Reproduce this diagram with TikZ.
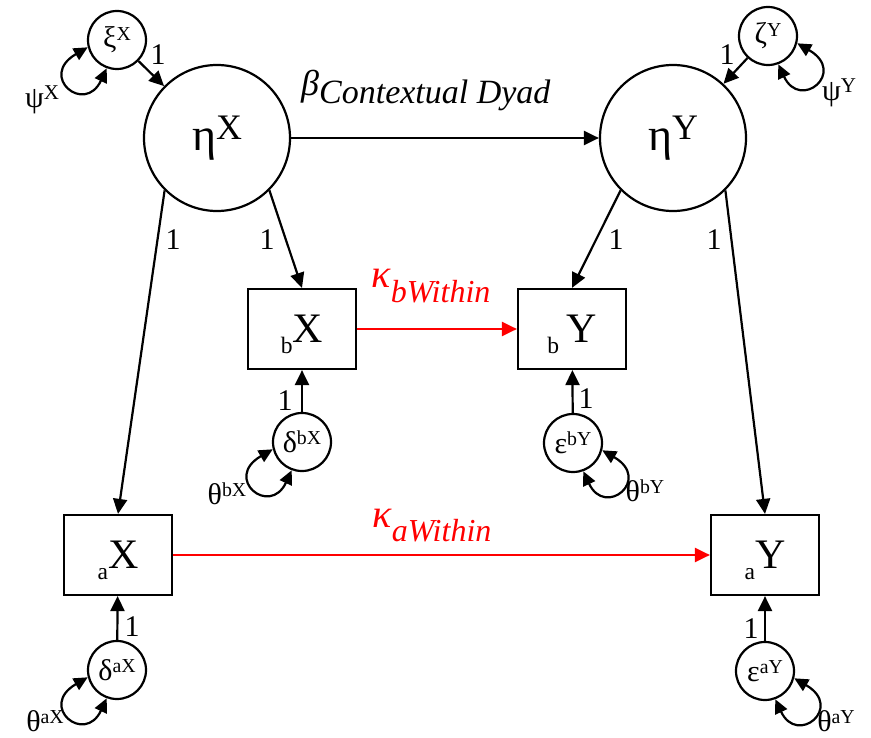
\documentclass[tikz,border=0pt]{standalone}
\usepackage{fontspec}
\setmainfont{LiberationSerif}[Extension=.ttf, UprightFont=*-Regular, ItalicFont=*-Italic, BoldFont=*-Bold]
\usepackage{xcolor}
\usetikzlibrary{arrows.meta,positioning,calc}
\definecolor{within}{HTML}{FF0000}
\newcommand{\up}[2][.66]{\raisebox{.25em}{\scalebox{#1}{#2}}}
\newcommand{\dn}[2][.56]{\raisebox{-.26em}{\scalebox{#1}{#2}}}

\begin{document}
\begin{tikzpicture}[x=1pt, y=1pt, >=Stealth,
  latent/.style={draw, circle, line width=2.2pt, minimum size=146pt, inner sep=0pt, font=\fontsize{46}{50}\selectfont},
  resid/.style={draw, circle, line width=2.2pt, minimum size=58pt, inner sep=0pt, font=\fontsize{30}{32}\selectfont},
  obs/.style={draw, rectangle, line width=2.2pt, minimum width=108pt, minimum height=80pt, inner sep=0pt, text depth=0pt, font=\fontsize{42}{46}\selectfont},
  load/.style={line width=2.2pt, -{Triangle[length=15pt, width=14pt]}},
  reg/.style={load, within},
  cov/.style={line width=2.2pt, {Triangle[length=14pt, width=13pt]}-{Triangle[length=14pt, width=13pt]}},
  one/.style={font=\fontsize{30}{32}\selectfont, inner sep=0pt},
  var/.style={font=\fontsize{30}{32}\selectfont, inner sep=0pt}]
  \useasboundingbox (0,0) rectangle (871,-738);

  % latent factors
  \node[latent] (etaX) at (217,-138) {η\up[.78]{X}};
  \node[latent] (etaY) at (673,-138) {η\up[.78]{Y}};
  \node[resid] (xiX) at (117,-40) {ξ\up{X}};
  \node[resid] (zetaY) at (768,-36) {ζ\up{Y}};

  % observed scores
  \node[obs] (bX) at (302,-329) {\dn{b}X};
  \node[obs] (bY) at (572,-329) {\dn{b}\,Y};
  \node[obs] (aX) at (118,-555) {\dn{a}X};
  \node[obs] (aY) at (765,-555) {\dn{a}Y};

  % residuals
  \node[resid] (dbX) at (302,-442) {δ\up{bX}};
  \node[resid] (ebY) at (573,-443) {ε\up{bY}};
  \node[resid] (daX) at (117,-670) {δ\up{aX}};
  \node[resid] (eaY) at (765,-671) {ε\up{aY}};

  % loadings
  \draw[load] (xiX) -- (etaX);
  \draw[load] (zetaY) -- (etaY);
  \draw[load] (etaX.225) -- (aX.north);
  \draw[load] (etaX.-45) -- (bX.north);
  \draw[load] (etaY.225) -- (bY.north);
  \draw[load] (etaY.-45) -- (aY.north);
  \draw[load] (dbX) -- (bX);
  \draw[load] (ebY) -- (bY);
  \draw[load] (daX) -- (aX);
  \draw[load] (eaY) -- (aY);
  \node[one] (l1) at (158,-55) {1};
  \node[one] (l2) at (727,-55) {1};
  \node[one] (l3) at (173,-240) {1};
  \node[one] (l4) at (267,-240) {1};
  \node[one] (l5) at (616,-240) {1};
  \node[one] (l6) at (714,-240) {1};
  \node[one] (l7) at (285,-401) {1};
  \node[one] (l8) at (586,-399) {1};
  \node[one] (l9) at (132,-627) {1};
  \node[one] (l10) at (751,-629) {1};

  % structural paths
  \draw[load] (etaX) -- (etaY);
  \node[anchor=base west, inner sep=0pt, font=\fontsize{36}{38}\selectfont] (beta) at (301,-96)
    {\textit{β}\raisebox{-.2em}{\fontsize{34}{36}\selectfont\itshape Contextual Dyad}};
  \draw[reg] (bX) -- (bY);
  \draw[reg] (aX) -- (aY);
  \node[anchor=base west, inner sep=0pt, within, font=\fontsize{40}{42}\selectfont] (kb) at (371,-288)
    {\textit{κ}\raisebox{-.36em}{\fontsize{32}{34}\selectfont\itshape bWithin}};
  \node[anchor=base west, inner sep=0pt, within, font=\fontsize{40}{42}\selectfont] (ka) at (372,-527)
    {\textit{κ}\raisebox{-.36em}{\fontsize{32}{34}\selectfont\itshape aWithin}};

  % variances
  \draw[cov] (xiX.194) .. controls +(210:58) and +(245:52) .. (xiX.250);
  \draw[cov] (dbX.194) .. controls +(210:58) and +(245:52) .. (dbX.250);
  \draw[cov] (daX.194) .. controls +(210:58) and +(245:52) .. (daX.250);
  \draw[cov] (zetaY.-14) .. controls +(-30:58) and +(-65:52) .. (zetaY.-70);
  \draw[cov] (ebY.-14) .. controls +(-30:58) and +(-65:52) .. (ebY.-70);
  \draw[cov] (eaY.-14) .. controls +(-30:58) and +(-65:52) .. (eaY.-70);
  \node[var] (psiX) at (42,-100) {ψ\up[.7]{X}};
  \node[var] (psiY) at (839,-93) {ψ\up[.7]{Y}};
  \node[var] (thbX) at (227,-494) {θ\up{bX}};
  \node[var] (thbY) at (645,-491) {θ\up{bY}};
  \node[var] (thaX) at (45,-721) {θ\up{aX}};
  \node[var] (thaY) at (836,-721) {θ\up{aY}};
\end{tikzpicture}
\end{document}
